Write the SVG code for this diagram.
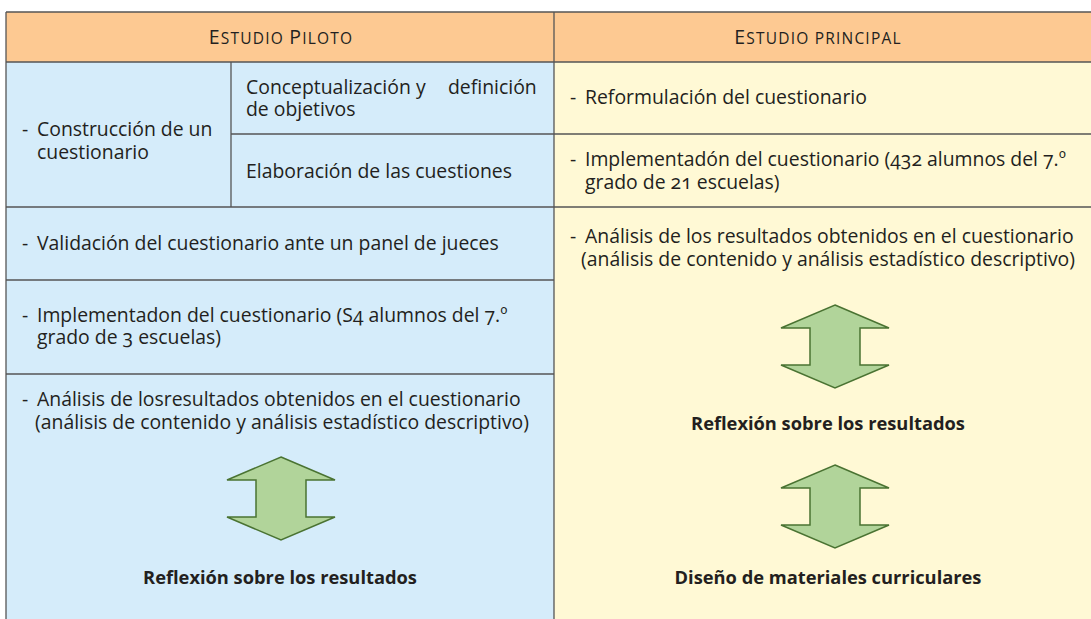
<svg xmlns="http://www.w3.org/2000/svg" width="1091" height="619" viewBox="0 0 1091 619">
<style>
.t{font-family:"Open Sans","Noto Sans","Liberation Sans",sans-serif;font-size:19.4px;fill:#231f20;font-variant-numeric:oldstyle-nums}
.h{font-family:"Open Sans","Noto Sans","Liberation Sans",sans-serif;font-size:15.5px;fill:#231f20;text-anchor:middle;letter-spacing:1.2px}
.cap{font-size:19.5px}
.b{font-family:"Open Sans","Noto Sans","Liberation Sans",sans-serif;font-size:18.3px;font-weight:bold;fill:#231f20;text-anchor:middle}
.ln{stroke:#555;stroke-width:1.3;fill:none}
.ar{fill:#b1d49a;stroke:#4a7332;stroke-width:1.5;stroke-linejoin:miter}
</style>
<defs>
<polygon id="arrow" class="ar" points="0,0 54,23 25,23 25,60 54,60 0,83 -54,60 -25,60 -25,23 -54,23"/>
</defs>
<rect x="0" y="0" width="1091" height="619" fill="#ffffff"/>
<g id="header-piloto">
<rect x="6" y="12" width="548" height="50" fill="#fdc992"/>
<text class="h" x="281" y="44"><tspan class="cap">E</tspan>STUDIO <tspan class="cap">P</tspan>ILOTO</text>
</g>
<g id="header-principal">
<rect x="554" y="12" width="537" height="50" fill="#fdc992"/>
<text class="h" x="818" y="44"><tspan class="cap">E</tspan>STUDIO PRINCIPAL</text>
</g>
<g id="col-piloto">
<rect x="6" y="62" width="548" height="557" fill="#d5ecfa"/>
</g>
<g id="col-principal">
<rect x="554" y="62" width="537" height="557" fill="#fff9d5"/>
</g>
<g id="construccion">
<text class="t"><tspan x="22" y="136">-</tspan><tspan x="37" y="136">Construcción de un</tspan><tspan x="37" y="159">cuestionario</tspan></text>
</g>
<g id="conceptualizacion">
<text class="t"><tspan x="246" y="94">Conceptualización</tspan><tspan x="416" y="94">y</tspan><tspan x="448" y="94">definición</tspan><tspan x="246" y="116">de objetivos</tspan></text>
</g>
<g id="elaboracion">
<text class="t" x="246" y="178">Elaboración de las cuestiones</text>
</g>
<g id="validacion">
<text class="t"><tspan x="22" y="250">-</tspan><tspan x="37" y="250">Validación del cuestionario ante un panel de jueces</tspan></text>
</g>
<g id="implementacion-piloto">
<text class="t"><tspan x="22" y="322">-</tspan><tspan x="37" y="322">Implementadon del cuestionario (S4 alumnos del 7.º</tspan><tspan x="37" y="344">grado de 3 escuelas)</tspan></text>
</g>
<g id="analisis-piloto">
<text class="t"><tspan x="22" y="406">-</tspan><tspan x="37" y="406">Análisis de losresultados obtenidos en el cuestionario</tspan><tspan x="35" y="429">(análisis de contenido y análisis estadístico descriptivo)</tspan></text>
</g>
<g id="reflexion-piloto">
<text class="b" x="280" y="584">Reflexión sobre los resultados</text>
</g>
<g id="reformulacion">
<text class="t"><tspan x="570" y="104">-</tspan><tspan x="585" y="104">Reformulación del cuestionario</tspan></text>
</g>
<g id="implementacion-principal">
<text class="t"><tspan x="570" y="166">-</tspan><tspan x="585" y="166">Implementadón del cuestionario (432 alumnos del 7.º</tspan><tspan x="585" y="189">grado de 21 escuelas)</tspan></text>
</g>
<g id="analisis-principal">
<text class="t"><tspan x="570" y="243">-</tspan><tspan x="585" y="243">Análisis de los resultados obtenidos en el cuestionario</tspan><tspan x="581" y="266">(análisis de contenido y análisis estadístico descriptivo)</tspan></text>
</g>
<g id="reflexion-principal">
<text class="b" x="828" y="430">Reflexión sobre los resultados</text>
</g>
<g id="diseno">
<text class="b" x="828" y="584">Diseño de materiales curriculares</text>
</g>
<g id="connectors">
<use href="#arrow" x="281" y="457"/>
<use href="#arrow" x="835" y="305"/>
<use href="#arrow" x="835" y="465"/>
</g>
<g id="grid">
<line class="ln" x1="6" y1="12" x2="1091" y2="12"/>
<line class="ln" x1="6" y1="62" x2="1091" y2="62"/>
<line class="ln" x1="6" y1="12" x2="6" y2="619"/>
<line class="ln" x1="554" y1="12" x2="554" y2="619"/>
<line class="ln" x1="231" y1="62" x2="231" y2="207"/>
<line class="ln" x1="231" y1="134" x2="554" y2="134"/>
<line class="ln" x1="6" y1="207" x2="554" y2="207"/>
<line class="ln" x1="6" y1="280" x2="554" y2="280"/>
<line class="ln" x1="6" y1="374" x2="554" y2="374"/>
<line class="ln" x1="554" y1="134" x2="1091" y2="134"/>
<line class="ln" x1="554" y1="207" x2="1091" y2="207"/>
</g>
</svg>
